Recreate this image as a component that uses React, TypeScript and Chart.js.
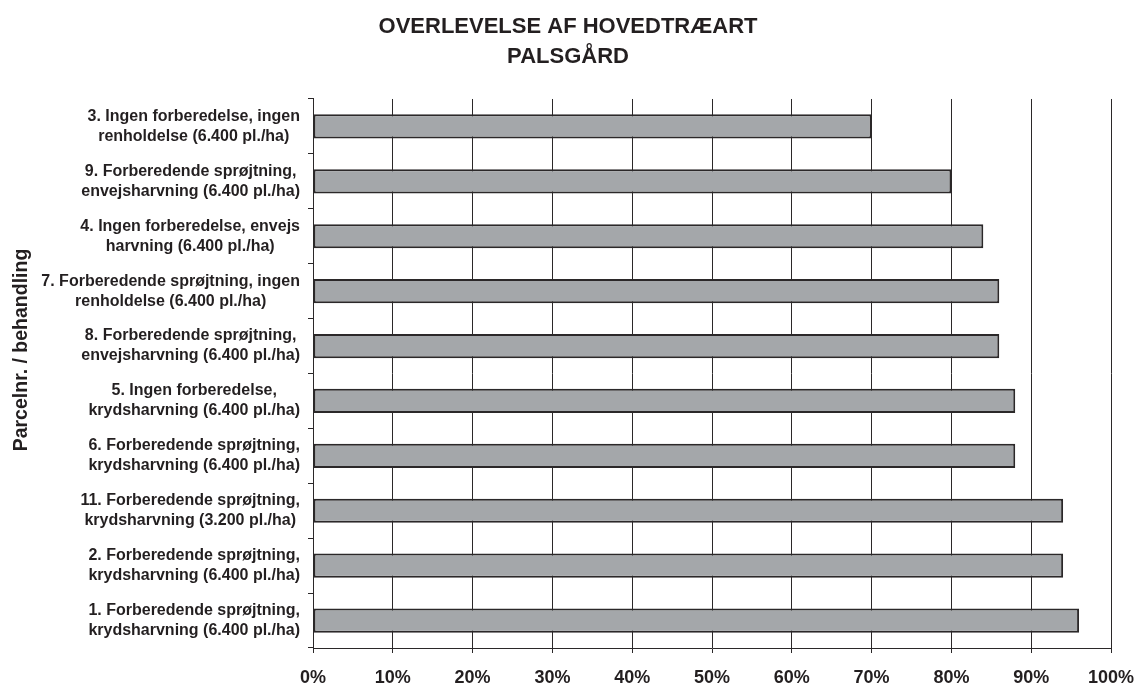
import React, { useEffect, useRef } from "react";
import { Chart, registerables } from "chart.js";

Chart.register(...registerables);

const titleLines = ["OVERLEVELSE AF HOVEDTRÆART", "PALSGÅRD"];
const yAxisTitle = "Parcelnr. / behandling";

const categories: string[][] = [
  ["3. Ingen forberedelse, ingen", "renholdelse (6.400 pl./ha)"],
  ["9. Forberedende sprøjtning,", "envejsharvning (6.400 pl./ha)"],
  ["4. Ingen forberedelse, envejs", "harvning (6.400 pl./ha)"],
  ["7. Forberedende sprøjtning, ingen", "renholdelse (6.400 pl./ha)"],
  ["8. Forberedende sprøjtning,", "envejsharvning (6.400 pl./ha)"],
  ["5. Ingen forberedelse,", "krydsharvning (6.400 pl./ha)"],
  ["6. Forberedende sprøjtning,", "krydsharvning (6.400 pl./ha)"],
  ["11. Forberedende sprøjtning,", "krydsharvning (3.200 pl./ha)"],
  ["2. Forberedende sprøjtning,", "krydsharvning (6.400 pl./ha)"],
  ["1. Forberedende sprøjtning,", "krydsharvning (6.400 pl./ha)"],
];

const survivalPct = [70, 80, 84, 86, 86, 88, 88, 94, 94, 96];

const xMin = 0;
const xMax = 100;
const xStep = 10;

const FONT = '"Liberation Sans", Arial, Helvetica, sans-serif';
const TEXT = "#231f20";

const categoryLabelPlugin = {
  id: "categoryLabels",
  afterDraw(chart: any) {
    const ctx = chart.ctx as CanvasRenderingContext2D;
    const yScale = chart.scales.y;
    const labels = chart.data.labels as string[][];
    ctx.save();
    ctx.fillStyle = TEXT;
    ctx.font = `bold 16px ${FONT}`;
    ctx.textAlign = "center";
    ctx.textBaseline = "middle";
    const rightEdge = chart.chartArea.left - 13;
    const lh = 20;
    labels.forEach((lines, i) => {
      const yc = yScale.getPixelForValue(i);
      const w = Math.max(...lines.map((l) => ctx.measureText(l).width));
      const xc = rightEdge - w / 2;
      lines.forEach((l, j) => {
        const y = yc + (j - (lines.length - 1) / 2) * lh;
        ctx.fillText(l, xc, y);
      });
    });
    // y axis title
    ctx.font = `bold 19.5px ${FONT}`;
    ctx.textBaseline = "alphabetic";
    ctx.translate(27, 350);
    ctx.rotate(-Math.PI / 2);
    ctx.fillText(yAxisTitle, 0, 0);
    ctx.restore();
  },
};

export default function App() {
  const canvasRef = useRef<HTMLCanvasElement | null>(null);

  useEffect(() => {
    document.body.style.margin = "0";
    const canvas = canvasRef.current;
    if (!canvas) return;
    const chart = new Chart(canvas, {
      type: "bar",
      data: {
        labels: categories as any,
        datasets: [
          {
            data: survivalPct,
            backgroundColor: "#a4a7aa",
            borderColor: "#2b2829",
            borderWidth: 2,
            borderSkipped: false,
            categoryPercentage: 1,
            barPercentage: 0.44,
          },
        ],
      },
      options: {
        indexAxis: "y",
        animation: false,
        responsive: true,
        maintainAspectRatio: false,
        layout: { padding: { left: 0, right: 0, top: 0, bottom: 0 } },
        plugins: {
          legend: { display: false },
          tooltip: { enabled: false },
          title: {
            display: true,
            text: titleLines,
            color: TEXT,
            font: { family: FONT, size: 22, weight: "bold", lineHeight: 1.3636 },
            padding: { top: 12, bottom: 27 },
          },
        },
        scales: {
          x: {
            type: "linear",
            min: xMin,
            max: xMax,
            ticks: {
              stepSize: xStep,
              callback: (v: any) => `${v}%`,
              color: TEXT,
              font: { family: FONT, size: 18, weight: "bold" },
              padding: 14,
              maxRotation: 0,
            },
            grid: {
              color: "#2b2829",
              lineWidth: 1,
              tickLength: 5,
              drawTicks: true,
            },
            border: { display: true, color: "#2b2829", width: 1 },
            afterFit: (scale: any) => {
              scale.height = 36;
              scale.paddingLeft = 0;
              scale.paddingRight = 25;
            },
          },
          y: {
            type: "category",
            ticks: { display: false },
            grid: {
              drawOnChartArea: false,
              drawTicks: true,
              tickLength: 5,
              color: "#2b2829",
              offset: true,
            },
            border: { display: true, color: "#2b2829", width: 1 },
            afterFit: (scale: any) => {
              scale.width = 313;
            },
          },
        },
      },
      plugins: [categoryLabelPlugin],
    });
    return () => chart.destroy();
  }, []);

  return (
    <div style={{ position: "relative", width: 1136, height: 684 }}>
      <canvas ref={canvasRef} />
    </div>
  );
}
